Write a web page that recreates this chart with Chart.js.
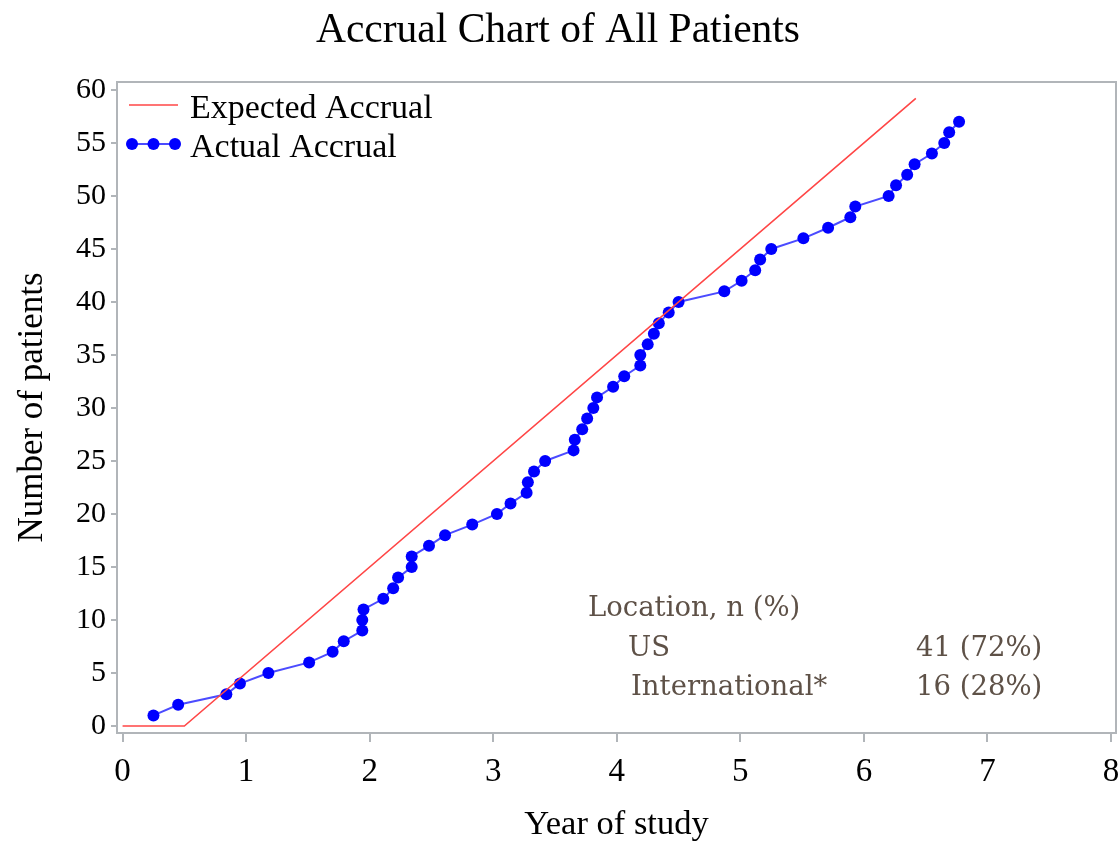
<!DOCTYPE html>
<html>
<head>
<meta charset="utf-8">
<title>Accrual Chart of All Patients</title>
<script src="https://cdn.jsdelivr.net/npm/chart.js@4/dist/chart.umd.min.js"></script>
<style>
  html, body { margin: 0; padding: 0; background: #fff; }
</style>
</head>
<body>
<canvas id="accrualChart" width="1118" height="842"></canvas>
<script>
// cumulative enrolment: year each patient came on study
const actualYears = [
  0.25, 0.45, 0.84, 0.95, 1.18, 1.51, 1.70, 1.79, 1.94, 1.94,
  1.95, 2.11, 2.19, 2.23, 2.34, 2.34, 2.48, 2.61, 2.83, 3.03,
  3.14, 3.27, 3.28, 3.33, 3.42, 3.65, 3.66, 3.72, 3.76, 3.81,
  3.84, 3.97, 4.06, 4.19, 4.19, 4.25, 4.30, 4.34, 4.42, 4.50,
  4.87, 5.01, 5.12, 5.16, 5.25, 5.51, 5.71, 5.89, 5.93, 6.20,
  6.26, 6.35, 6.41, 6.55, 6.65, 6.69, 6.77
];
const actualPatients = [
  1, 2, 3, 4, 5, 6, 7, 8, 9, 10,
  11, 12, 13, 14, 15, 16, 17, 18, 19, 20,
  21, 22, 23, 24, 25, 26, 27, 28, 29, 30,
  31, 32, 33, 34, 35, 36, 37, 38, 39, 40,
  41, 42, 43, 44, 45, 46, 47, 48, 49, 50,
  51, 52, 53, 54, 55, 56, 57
];

// planned accrual: nothing for the first half year, then 10 per year
const expectedYears = [0, 0.5, 6.42];
const expectedPatients = [0, 0, 59.2];

// enrolment by location
const locationNames = ['US', 'International*'];
const locationCounts = [41, 16];
const locationPercents = [72, 28];

const serif = '"Liberation Serif", "Times New Roman", serif';
const frameGray = '#b1b5b9';

function toPoints(xs, ys) {
  return xs.map((x, i) => ({ x: x, y: ys[i] }));
}

// grey box round the plot area
const plotFrame = {
  id: 'plotFrame',
  beforeDatasetsDraw(chart) {
    const { ctx, chartArea: a } = chart;
    ctx.save();
    ctx.strokeStyle = frameGray;
    ctx.lineWidth = 2;
    ctx.strokeRect(a.left, a.top, a.right - a.left, a.bottom - a.top);
    ctx.restore();
  }
};

// legend sits inside the top-left corner of the plot
const insetLegend = {
  id: 'insetLegend',
  afterDatasetsDraw(chart) {
    const { ctx, chartArea: a } = chart;
    ctx.save();
    ctx.font = '34px ' + serif;
    ctx.textBaseline = 'alphabetic';
    chart.data.datasets.forEach((ds, i) => {
      const y = a.top + 23 + i * 39;
      const x0 = a.left + 12;
      const x1 = a.left + 61;
      ctx.strokeStyle = ds.borderColor;
      ctx.lineWidth = ds.borderWidth;
      ctx.beginPath();
      ctx.moveTo(x0, y);
      ctx.lineTo(x1, y);
      ctx.stroke();
      if (ds.pointRadius > 0) {
        ctx.fillStyle = ds.pointBackgroundColor;
        [x0 + 3, (x0 + x1) / 2, x1 - 3].forEach(px => {
          ctx.beginPath();
          ctx.arc(px, y, ds.pointRadius, 0, Math.PI * 2);
          ctx.fill();
        });
      }
      ctx.fillStyle = '#000';
      ctx.fillText(ds.label, a.left + 73, y + 13);
    });
    ctx.restore();
  }
};

// small location table in the lower right
const locationTable = {
  id: 'locationTable',
  afterDatasetsDraw(chart) {
    const ctx = chart.ctx;
    ctx.save();
    ctx.font = '27.5px "DejaVu Serif", serif';
    ctx.fillStyle = '#5e5147';
    ctx.textBaseline = 'alphabetic';
    ctx.fillText('Location, n (%)', 588, 616);
    const nameX = [628, 631];
    locationNames.forEach((name, i) => {
      const y = 656 + i * 39;
      ctx.fillText(name, nameX[i], y);
      ctx.fillText(locationCounts[i] + ' (' + locationPercents[i] + '%)', 916, y);
    });
    ctx.restore();
  }
};

new Chart(document.getElementById('accrualChart'), {
  type: 'line',
  data: {
    datasets: [
      {
        label: 'Expected Accrual',
        data: toPoints(expectedYears, expectedPatients),
        borderColor: '#ff4646',
        borderWidth: 1.6,
        pointRadius: 0,
        tension: 0
      },
      {
        label: 'Actual Accrual',
        data: toPoints(actualYears, actualPatients),
        borderColor: 'rgba(30, 30, 255, 0.8)',
        borderWidth: 2,
        pointRadius: 6,
        pointBackgroundColor: '#0000ff',
        pointBorderWidth: 0,
        tension: 0
      }
    ]
  },
  options: {
    responsive: false,
    animation: false,
    layout: { autoPadding: false, padding: { top: 0, right: 2, bottom: 0, left: 0 } },
    plugins: {
      legend: { display: false },
      tooltip: { enabled: false },
      title: {
        display: true,
        text: 'Accrual Chart of All Patients',
        color: '#000',
        font: { family: serif, size: 41.5, weight: 'normal', lineHeight: 1.2 },
        padding: { top: 6, bottom: 26.2 }
      }
    },
    scales: {
      x: {
        type: 'linear',
        min: -0.045,
        max: 8.04,
        afterFit(scale) {
          scale.height = 109;
          scale.paddingLeft = 0;
          scale.paddingRight = 0;
        },
        ticks: {
          stepSize: 1,
          includeBounds: false,
          color: '#000',
          padding: 11,
          maxRotation: 0,
          font: { family: serif, size: 33 }
        },
        grid: {
          drawOnChartArea: false,
          color: frameGray,
          lineWidth: 2,
          tickLength: 9
        },
        border: { display: true, color: frameGray, width: 2 },
        title: {
          display: true,
          text: 'Year of study',
          color: '#000',
          font: { family: serif, size: 34.5, lineHeight: 1 },
          padding: { top: 0, bottom: 0 }
        }
      },
      y: {
        type: 'linear',
        min: -0.66,
        max: 60.75,
        afterFit(scale) {
          scale.width = 117;
          scale.paddingTop = 0;
          scale.paddingBottom = 0;
        },
        ticks: {
          stepSize: 5,
          includeBounds: false,
          color: '#000',
          padding: 5,
          font: { family: serif, size: 30 }
        },
        grid: {
          drawOnChartArea: false,
          color: frameGray,
          lineWidth: 2,
          tickLength: 6
        },
        border: { display: true, color: frameGray, width: 2 },
        title: {
          display: true,
          text: 'Number of patients',
          color: '#000',
          font: { family: serif, size: 35, lineHeight: 1.2 },
          padding: { top: 12, bottom: 0 }
        }
      }
    }
  },
  plugins: [plotFrame, insetLegend, locationTable]
});
</script>
</body>
</html>
